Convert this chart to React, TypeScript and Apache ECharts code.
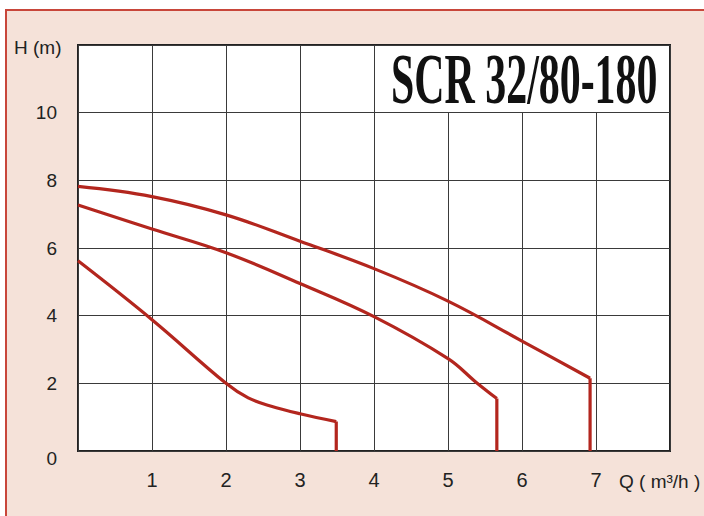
import React, { useEffect, useRef } from "react";
import * as echarts from "echarts";

// Pump curves (Q in m³/h, H in m)
const curveTopQ = [0, 1, 2, 3, 4, 5, 6, 6.92];
const curveTopH = [7.82, 7.52, 6.98, 6.2, 5.39, 4.43, 3.25, 2.15];
const curveMidQ = [0, 1, 2, 3, 4, 5, 5.37, 5.66];
const curveMidH = [7.27, 6.56, 5.86, 4.95, 3.97, 2.73, 2.05, 1.55];
const curveLowQ = [0, 1, 2, 2.3, 2.6, 3, 3.49];
const curveLowH = [5.62, 3.88, 2.0, 1.57, 1.33, 1.1, 0.87];

const xTickLabels = ["", "1", "2", "3", "4", "5", "6", "7", ""];
const yTickLabels = ["0", "2", "4", "6", "8", "10", ""];

const title = "SCR 32/80-180";
const yAxisTitle = "H (m)";
const xAxisTitle = "Q ( m³/h )";

const RED = "#b3261e";

function pairs(q: number[], h: number[]) {
  return q.map((v, i) => [v, h[i]]);
}
function drop(q: number[], h: number[]) {
  const n = q.length - 1;
  return [
    [q[n], h[n]],
    [q[n], 0],
  ];
}

export default function App() {
  const ref = useRef<HTMLDivElement>(null);
  useEffect(() => {
    if (!ref.current) return;
    const chart = echarts.init(ref.current, null, { renderer: "svg" });
    const curves = [
      [curveTopQ, curveTopH],
      [curveMidQ, curveMidH],
      [curveLowQ, curveLowH],
    ];
    const series: any[] = [];
    curves.forEach(([q, h]) => {
      series.push({
        type: "line",
        data: pairs(q, h),
        smooth: 0.4,
        showSymbol: false,
        lineStyle: { color: RED, width: 3.2 },
        z: 5,
      });
      series.push({
        type: "line",
        data: drop(q, h),
        smooth: false,
        showSymbol: false,
        lineStyle: { color: RED, width: 3.2, cap: "butt" },
        z: 5,
      });
    });
    chart.setOption({
      animation: false,
      backgroundColor: "transparent",
      grid: {
        left: 78,
        right: 34,
        top: 45,
        bottom: 65,
        show: true,
        backgroundColor: "#ffffff",
        borderColor: "#222",
        borderWidth: 2,
      },
      xAxis: {
        type: "value",
        min: 0,
        max: 8,
        interval: 1,
        axisLine: { show: false },
        axisTick: { show: false },
        splitLine: { show: true, lineStyle: { color: "#3a3a3a", width: 1 } },
        axisLabel: {
          margin: 19,
          fontSize: 20,
          color: "#222",
          fontFamily: "Liberation Sans",
          formatter: (v: number) => xTickLabels[Math.round(v)] ?? "",
        },
      },
      yAxis: {
        type: "value",
        min: 0,
        max: 12,
        interval: 2,
        axisLine: { show: false },
        axisTick: { show: false },
        splitLine: { show: true, lineStyle: { color: "#3a3a3a", width: 1 } },
        axisLabel: {
          margin: 21,
          fontSize: 19,
          color: "#222",
          fontFamily: "Liberation Sans",
          formatter: (v: number) => {
            const t = yTickLabels[Math.round(v / 2)] ?? "";
            return v === 0 ? "{z|" + t + "}" : t;
          },
          rich: {
            z: {
              fontSize: 19,
              color: "#222",
              fontFamily: "Liberation Sans",
              padding: [14, 0, 0, 0],
            },
          },
        },
      },
      graphic: [
        {
          type: "rect",
          z: 3,
          shape: { x: 375.5, y: 46, width: 293.5, height: 66 },
          style: { fill: "#ffffff" },
        },
        {
          type: "text",
          z: 4,
          x: 391,
          y: 79,
          scaleX: 0.59,
          style: {
            text: title,
            fontFamily: "Liberation Serif",
            fontWeight: "bold",
            fontSize: 71,
            fill: "#111",
            align: "left",
            verticalAlign: "middle",
          },
        },
        {
          type: "text",
          z: 4,
          x: 14,
          y: 47,
          style: {
            text: yAxisTitle,
            fontFamily: "Liberation Sans",
            fontSize: 19,
            fill: "#222",
            align: "left",
            verticalAlign: "middle",
          },
        },
        {
          type: "text",
          z: 4,
          x: 619,
          y: 481,
          style: {
            text: xAxisTitle,
            fontFamily: "Liberation Sans",
            fontSize: 19,
            fill: "#222",
            align: "left",
            verticalAlign: "middle",
          },
        },
      ],
      series,
    });
    return () => chart.dispose();
  }, []);

  return (
    <div
      style={{
        position: "fixed",
        left: 0,
        top: 0,
        width: 704,
        height: 516,
        background: "#ffffff",
        overflow: "hidden",
      }}
    >
      <div
        style={{
          position: "absolute",
          left: 5,
          top: 9,
          right: -4,
          bottom: -4,
          background: "#f5e2d9",
          borderLeft: "2px solid #c8463a",
          borderTop: "2px solid #c8463a",
        }}
      />
      <div
        ref={ref}
        style={{ position: "absolute", left: 0, top: 0, width: 704, height: 516 }}
      />
    </div>
  );
}
